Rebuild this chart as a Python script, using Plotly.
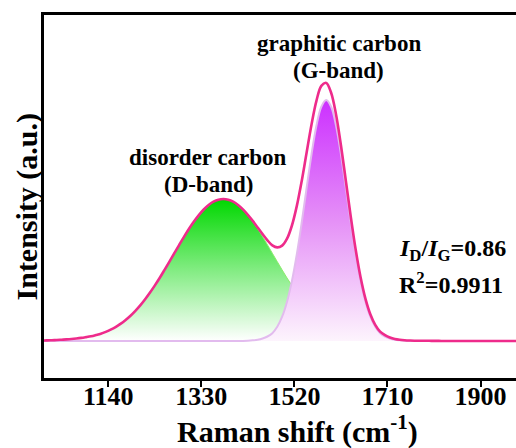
import plotly.graph_objects as go

# Raman shift grid (cm^-1)
raman_shift = [1005 + 10 * i for i in range(100)]

# Fitted D-band component (arbitrary units)
d_band = [0.5, 0.6, 0.8, 1.0, 1.3, 1.6, 2.0, 2.5, 3.1, 3.9,
          4.8, 6.0, 7.3, 9.1, 11.3, 13.9, 17.1, 20.8, 25.0, 29.9,
          35.4, 41.5, 48.2, 55.4, 63.0, 71.1, 79.4, 87.8, 96.2, 104.4,
          112.2, 119.4, 125.9, 131.5, 136.0, 139.3, 141.3, 142.0, 141.3, 139.3,
          136.0, 131.5, 125.9, 119.4, 112.2, 104.4, 96.2, 87.8, 79.4, 71.1,
          63.0, 55.4, 48.2, 41.5, 35.4, 29.9, 25.0, 20.8, 17.1, 13.9,
          11.3, 9.1, 7.3, 6.0, 4.8, 3.9, 3.1, 2.5, 2.0, 1.6,
          1.3, 1.0, 0.8, 0.6, 0.5, 0.4, 0.3, 0.3, 0.2, 0.2,
          0.1, 0.1, 0, 0, 0, 0, 0, 0, 0, 0,
          0, 0, 0, 0, 0, 0, 0, 0, 0, 0]

# Fitted G-band component
g_band = [0, 0, 0, 0, 0, 0, 0, 0, 0, 0,
          0, 0, 0, 0, 0, 0, 0, 0, 0, 0,
          0, 0, 0, 0, 0, 0, 0, 0, 0, 0,
          0, 0, 0, 0, 0, 0, 0, 0, 0, 0,
          0, 0.1, 0.3, 0.7, 1.3, 2.5, 4.5, 7.8, 14.2, 24.3,
          39.3, 60.1, 86.9, 118.6, 153.1, 186.7, 215.2, 234.3, 241.0, 234.3,
          215.2, 186.7, 153.1, 118.6, 86.9, 60.1, 39.3, 24.3, 14.2, 7.8,
          4.5, 2.5, 1.3, 0.7, 0.3, 0.1, 0, 0, 0, 0,
          0, 0, 0, 0, 0, 0, 0, 0, 0, 0,
          0, 0, 0, 0, 0, 0, 0, 0, 0, 0]

# Cumulative fit envelope
envelope = [0.5, 0.6, 0.8, 1.0, 1.3, 1.6, 2.0, 2.5, 3.1, 3.9,
            4.8, 6.0, 7.3, 9.1, 11.3, 13.9, 17.1, 20.8, 25.0, 29.9,
            35.4, 41.5, 48.2, 55.4, 63.0, 71.1, 79.4, 87.8, 96.2, 104.4,
            112.2, 119.4, 125.9, 131.5, 136.0, 139.3, 141.3, 142.0, 141.3, 139.3,
            136.0, 131.6, 126.2, 120.1, 113.5, 106.9, 100.7, 95.6, 93.6, 95.4,
            102.3, 115.5, 135.1, 160.1, 188.5, 216.6, 240.2, 255.1, 258.1, 248.2,
            226.5, 195.8, 160.4, 124.6, 91.7, 64.0, 42.4, 26.8, 16.2, 9.4,
            5.8, 3.5, 2.1, 1.3, 0.8, 0.5, 0.3, 0.3, 0.2, 0.2,
            0.1, 0.1, 0, 0, 0, 0, 0, 0, 0, 0,
            0, 0, 0, 0, 0, 0, 0, 0, 0, 0]

tick_vals = [1140, 1330, 1520, 1710, 1900]
tick_text = ["1140", "1330", "1520", "1710", "1900"]

FONT = "Liberation Serif, Times New Roman, serif"

fig = go.Figure()

fig.add_trace(go.Scatter(
    x=raman_shift, y=d_band, mode="lines", fill="tozeroy",
    line=dict(color="#8CEB6E", width=1, shape="spline"),
    fillcolor="#00D900",
    fillgradient=dict(type="vertical", start=0, stop=142,
                      colorscale=[[0, "#FFFFFF"], [0.5, "#82EC82"], [1, "#00D800"]]),
    showlegend=False, hoverinfo="skip"))

fig.add_trace(go.Scatter(
    x=raman_shift, y=g_band, mode="lines", fill="tozeroy",
    line=dict(color="#E2BBEE", width=2, shape="spline"),
    fillcolor="#CC30FF",
    fillgradient=dict(type="vertical", start=0, stop=241,
                      colorscale=[[0, "#FDF4FD"], [0.5, "#E590F7"], [1, "#CC30FF"]]),
    showlegend=False, hoverinfo="skip"))

fig.add_trace(go.Scatter(
    x=raman_shift, y=envelope, mode="lines",
    line=dict(color="#EE2B8B", width=2.6, shape="spline"),
    showlegend=False, hoverinfo="skip"))

ann_font = dict(family=FONT, size=23, color="black", weight="bold")
ratio_font = dict(family=FONT, size=24, color="black", weight="bold")
annotations = [
    dict(x=1611, y=298, text="graphitic carbon", xanchor="center", yanchor="middle", font=ann_font),
    dict(x=1611, y=271, text="(G-band)", xanchor="center", yanchor="middle", font=ann_font),
    dict(x=1344, y=184, text="disorder carbon", xanchor="center", yanchor="middle", font=ann_font),
    dict(x=1344, y=157, text="(D-band)", xanchor="center", yanchor="middle", font=ann_font),
    dict(x=1729, y=91, text="<i>I</i><sub>D</sub>/<i>I</i><sub>G</sub>=0.86",
         xanchor="left", yanchor="middle", font=ratio_font),
    dict(x=1729, y=58, text="R<sup>2</sup>=0.9911", xanchor="left", yanchor="middle",
         font=ratio_font),
]
for a in annotations:
    a.update(xref="x", yref="y", showarrow=False)

# axis titles
annotations.append(dict(xref="paper", yref="paper", x=0.537, y=0, yshift=-51,
                        text="Raman shift (cm<sup>-1</sup>)", showarrow=False,
                        xanchor="center", yanchor="middle",
                        font=dict(family=FONT, size=30, color="black", weight="bold")))
annotations.append(dict(xref="paper", yref="paper", x=0, xshift=-17, y=0.4725,
                        text="Intensity (a.u.)", showarrow=False, textangle=-90,
                        xanchor="center", yanchor="middle",
                        font=dict(family=FONT, size=30, color="black", weight="bold")))

fig.update_layout(
    width=516, height=448,
    margin=dict(l=44, r=0, t=15, b=70),
    paper_bgcolor="white", plot_bgcolor="white",
    annotations=annotations,
    xaxis=dict(range=[1009, 1972.3], tickvals=tick_vals, ticktext=tick_text,
               ticks="outside", ticklen=6, tickwidth=2, tickcolor="black",
               ticklabelstandoff=-13,
               showline=True, linewidth=2.5, linecolor="black", mirror=True,
               showgrid=False, zeroline=False,
               tickfont=dict(family=FONT, size=26, color="black", weight="bold")),
    yaxis=dict(range=[-37, 326], showticklabels=False, ticks="",
               showline=True, linewidth=2.5, linecolor="black", mirror=False,
               showgrid=False, zeroline=False),
)

fig.write_html("out.html")
